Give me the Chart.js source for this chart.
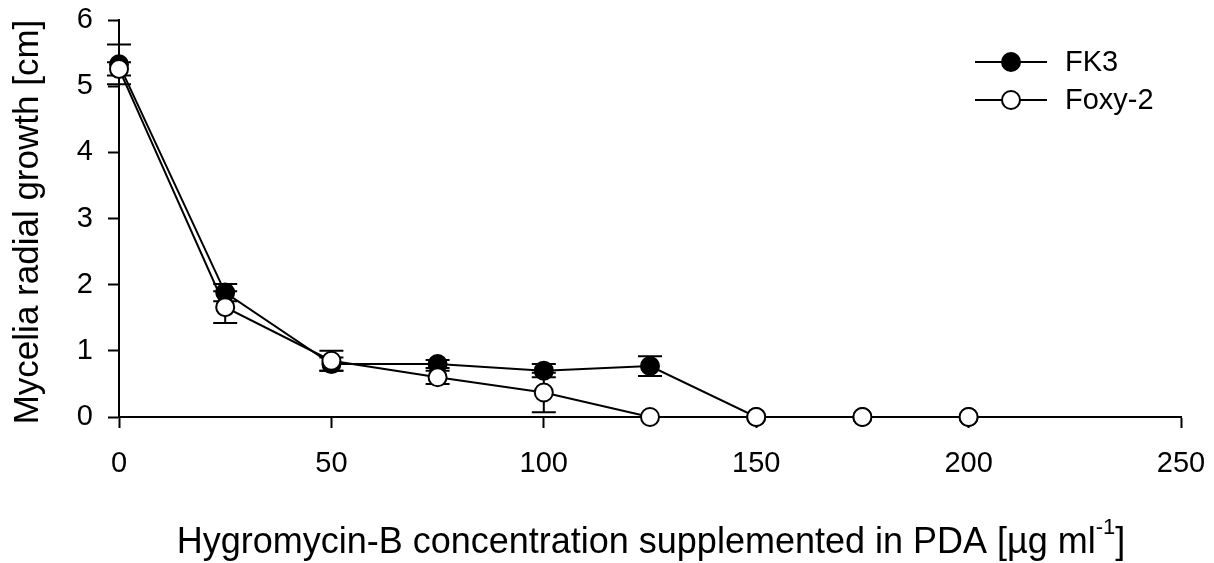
<!DOCTYPE html>
<html>
<head>
<meta charset="utf-8">
<script src="https://cdn.jsdelivr.net/npm/chart.js@4.4.1/dist/chart.umd.min.js"></script>
<style>
  html, body { margin: 0; padding: 0; background: #fff; }
  #wrap { width: 1214px; height: 563px; }
</style>
</head>
<body>
<div id="wrap"><canvas id="c" width="1214" height="563"></canvas></div>
<script>
// Hygromycin-B concentrations (µg/ml)
const concentrations = [0, 25, 50, 75, 100, 125, 150, 175, 200];
// Mean radial growth (cm) and standard errors
const fk3Growth  = [5.33, 1.88, 0.80, 0.80, 0.70, 0.77, 0, 0, 0];
const fk3Err     = [0.30, 0.13, 0.10, 0.06, 0.10, 0.15, 0, 0, 0];
const foxyGrowth = [5.26, 1.66, 0.85, 0.60, 0.37, 0, 0, 0, 0];
const foxyErr    = [0.10, 0.24, 0.15, 0.10, 0.30, 0, 0, 0, 0];
const seriesNames = ['FK3', 'Foxy-2'];
const xTicks = [0, 50, 100, 150, 200, 250];
const yTicks = [0, 1, 2, 3, 4, 5, 6];

const FONT = "'Liberation Sans', Arial, sans-serif";

function pts(vals) { return concentrations.map((c, i) => ({ x: c, y: vals[i] })); }

// vertical error bars with caps, drawn under each dataset's markers
const errorBars = {
  id: 'errorBars',
  beforeDatasetDraw(chart, args) {
    const ds = chart.data.datasets[args.index];
    if (!ds.errors) return;
    const ctx = chart.ctx, xs = chart.scales.x, ys = chart.scales.y;
    ctx.save();
    ctx.strokeStyle = '#000';
    ctx.lineWidth = 2;
    ds.data.forEach((p, i) => {
      const e = ds.errors[i];
      if (!e) return;
      const px = xs.getPixelForValue(p.x);
      const top = ys.getPixelForValue(p.y + e);
      const bot = ys.getPixelForValue(Math.max(0, p.y - e));
      ctx.beginPath();
      ctx.moveTo(px, top); ctx.lineTo(px, bot);
      ctx.moveTo(px - 12, top); ctx.lineTo(px + 12, top);
      ctx.moveTo(px - 12, bot); ctx.lineTo(px + 12, bot);
      ctx.stroke();
    });
    ctx.restore();
  }
};

// axis titles and legend
const decorations = {
  id: 'decorations',
  afterDraw(chart) {
    const ctx = chart.ctx;
    ctx.save();
    ctx.fillStyle = '#000';
    // y title
    ctx.save();
    ctx.translate(38, 222);
    ctx.rotate(-Math.PI / 2);
    ctx.font = `35px ${FONT}`;
    ctx.textAlign = 'center';
    ctx.textBaseline = 'alphabetic';
    ctx.fillText('Mycelia radial growth [cm]', 0, 0);
    ctx.restore();

    // x title with superscript
    const main = 'Hygromycin-B concentration supplemented in PDA [µg ml';
    const sup = '-1';
    const tail = ']';
    ctx.textBaseline = 'alphabetic';
    ctx.textAlign = 'left';
    ctx.font = `36px ${FONT}`;
    const wMain = ctx.measureText(main).width;
    const wTail = ctx.measureText(tail).width;
    ctx.font = `22px ${FONT}`;
    const wSup = ctx.measureText(sup).width;
    const total = wMain + wSup + wTail;
    const x0 = 651 - total / 2;
    const base = 553;
    ctx.font = `36px ${FONT}`;
    ctx.fillText(main, x0, base);
    ctx.font = `22px ${FONT}`;
    ctx.fillText(sup, x0 + wMain, base - 19);
    ctx.font = `36px ${FONT}`;
    ctx.fillText(tail, x0 + wMain + wSup, base);

    // legend
    const rows = [62, 100];
    chart.data.datasets.forEach((ds, i) => {
      const y = rows[i];
      ctx.strokeStyle = '#000';
      ctx.lineWidth = 2;
      ctx.beginPath();
      ctx.moveTo(975, y); ctx.lineTo(1047, y);
      ctx.stroke();
      ctx.beginPath();
      ctx.arc(1011, y, 9, 0, Math.PI * 2);
      ctx.fillStyle = ds.pointBackgroundColor;
      ctx.fill();
      ctx.stroke();
      ctx.fillStyle = '#000';
      ctx.font = `29px ${FONT}`;
      ctx.textBaseline = 'middle';
      ctx.fillText(ds.label, 1065, y + 1);
    });
    ctx.restore();
  }
};

const common = {
  borderColor: '#000',
  borderWidth: 2,
  pointRadius: 9,
  pointHoverRadius: 9,
  pointBorderColor: '#000',
  pointBorderWidth: 2,
  tension: 0,
  clip: false
};

new Chart(document.getElementById('c'), {
  type: 'line',
  data: {
    datasets: [
      Object.assign({ label: seriesNames[0], data: pts(fk3Growth), errors: fk3Err,
        pointBackgroundColor: '#000', order: 2 }, common),
      Object.assign({ label: seriesNames[1], data: pts(foxyGrowth), errors: foxyErr,
        pointBackgroundColor: '#fff', order: 1 }, common)
    ]
  },
  options: {
    responsive: false,
    animation: false,
    devicePixelRatio: 1,
    layout: { padding: { top: 20, right: 33, left: 0, bottom: 0 } },
    plugins: { legend: { display: false }, tooltip: { enabled: false } },
    scales: {
      x: {
        type: 'linear', min: 0, max: 250,
        afterBuildTicks: s => { s.ticks = xTicks.map(v => ({ value: v })); },
        afterFit: s => { s.height = 146; s.paddingRight = 0; s.paddingLeft = 0; },
        grid: { display: true, drawOnChartArea: false, drawTicks: true, tickLength: 11,
                tickColor: '#000', tickWidth: 2 },
        border: { display: true, color: '#000', width: 2 },
        ticks: { color: '#000', font: { family: FONT, size: 29 }, padding: 19, maxRotation: 0 }
      },
      y: {
        type: 'linear', min: 0, max: 6,
        afterBuildTicks: s => { s.ticks = yTicks.map(v => ({ value: v })); },
        afterFit: s => { s.width = 119; s.paddingTop = 0; s.paddingBottom = 0; },
        grid: { display: true, drawOnChartArea: false, drawTicks: true, tickLength: 11,
                tickColor: '#000', tickWidth: 2 },
        border: { display: true, color: '#000', width: 2 },
        ticks: { color: '#000', font: { family: FONT, size: 29 }, padding: 15 }
      }
    }
  },
  plugins: [errorBars, decorations]
});
</script>
</body>
</html>
